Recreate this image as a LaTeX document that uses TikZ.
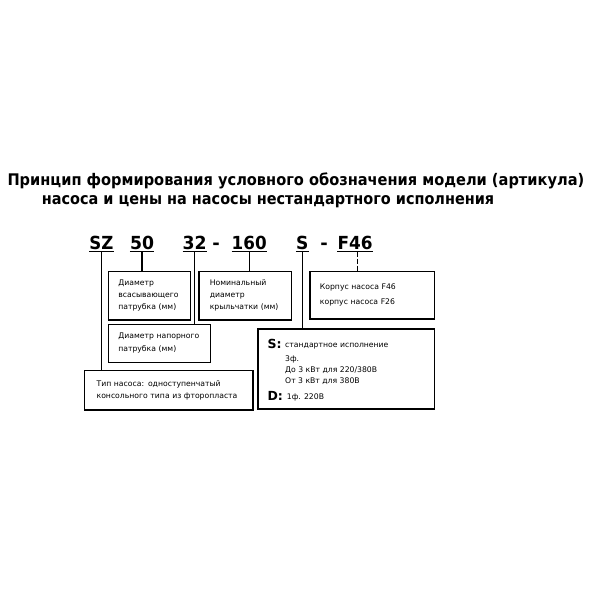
\documentclass[tikz,border=0pt]{standalone}
\usepackage{fontspec}
\setmainfont{DejaVu Sans}
\usepackage{graphicx}
\newcommand{\boxfnt}{\fontsize{7.7}{11.8}\selectfont}
\begin{document}
\begin{tikzpicture}[x=1pt,y=-1pt,
  titlestyle/.style={font=\fontsize{16}{16}\selectfont\bfseries, inner sep=0pt, anchor=base west},
  codestyle/.style={font=\fontsize{18}{18}\selectfont\bfseries, inner sep=0pt, anchor=base},
  uline/.style={line width=1.8pt, draw=black},
  conn/.style={line width=1.25pt, draw=black},
  infobox/.style={draw=black, line width=1.2pt, rectangle, anchor=north west,
    inner xsep=10pt, inner ysep=0pt, align=left, font=\boxfnt},
  boxtext/.style={font=\boxfnt, inner sep=0pt, anchor=base west},
  bigletter/.style={font=\fontsize{12.5}{12.5}\selectfont\bfseries, inner sep=0pt, anchor=base west}]
\useasboundingbox (0,0) rectangle (591,591);
\fill[white] (0,0) rectangle (591,591);

% title
\node[titlestyle] (t1) at (7.3,185) {\resizebox{576.7pt}{\height}{Принцип формирования условного обозначения модели (артикула)}};
\node[titlestyle] (t2) at (41.7,204.3) {\resizebox{452.3pt}{\height}{насоса и цены на насосы нестандартного исполнения}};

% code line
\node[codestyle] (sz) at (101.3,249) {\resizebox{24pt}{\height}{SZ}};
\node[codestyle] (c50) at (142,249) {\resizebox{24pt}{\height}{50}};
\node[codestyle] (c32) at (194.7,249) {\resizebox{24pt}{\height}{32}};
\node[codestyle] (d1) at (216,249) {-};
\node[codestyle] (c160) at (249.2,249) {\resizebox{35pt}{\height}{160}};
\node[codestyle] (cs) at (302.2,249) {\resizebox{12.3pt}{\height}{S}};
\node[codestyle] (d2) at (324.2,249) {-};
\node[codestyle] (cf) at (355,249) {\resizebox{35pt}{\height}{F46}};

\foreach \n in {sz,c50,c32,c160,cs,cf}{
  \draw[uline] ([yshift=-2.5pt]\n.base west) -- ([yshift=-2.5pt]\n.base east);
}

% boxes
\node[infobox, minimum width=82.3pt, minimum height=48.6pt, text width=62.3pt] (b1) at (107.7,270.7)
  {Диаметр\\всасывающего\\патрубка (мм)};
\node[infobox, minimum width=92.4pt, minimum height=48.6pt, text width=70.7pt, inner xsep=10.85pt] (b2) at (198.3,270.7)
  {Номинальный\\диаметр\\крыльчатки (мм)};
\node[infobox, minimum width=102.3pt, minimum height=37.7pt, text width=82.3pt, font=\fontsize{7.7}{13}\selectfont] (b3) at (107.7,324)
  {Диаметр напорного\\патрубка (мм)};
\node[infobox, minimum width=168.3pt, minimum height=39.3pt, text width=144.3pt, inner xsep=12pt] (b4) at (84,370)
  {Тип насоса: одноступенчатый\\консольного типа из фторопласта};
\node[infobox, minimum width=124.7pt, minimum height=47.6pt, text width=104.7pt, font=\fontsize{7.7}{15.6}\selectfont] (b5) at (309.3,270.7)
  {Корпус насоса F46\\корпус насоса F26};
\node[draw=black, line width=1.2pt, rectangle, anchor=north west, minimum width=176.7pt, minimum height=80pt, inner sep=0pt] (b6) at (257.3,328.3) {};

% S box contents
\node[bigletter] (sl) at (267.3,348.3) {S:};
\node[boxtext] (s1) at (285,347.5) {стандартное исполнение};
\node[boxtext] (s2) at (285,361.5) {3ф.};
\node[boxtext] (s3) at (285,372.5) {До 3 кВт для 220/380В};
\node[boxtext] (s4) at (285,383.5) {От 3 кВт для 380В};
\node[bigletter] (dl) at (267.3,400.7) {D:};
\node[boxtext] (s5) at (286.7,399.5) {1ф. 220В};

% connectors
\draw[conn] ([yshift=-2.5pt]sz.base) -- (sz.base |- b4.north);
\draw[conn] ([yshift=-2.5pt]c50.base) -- (c50.base |- b1.north);
\draw[conn] ([yshift=-2.5pt]c32.base) -- (c32.base |- b3.north);
\draw[conn] ([yshift=-2.5pt]c160.base) -- (c160.base |- b2.north);
\draw[conn] ([yshift=-2.5pt]cs.base) -- (cs.base |- b6.north);
\draw[conn, dash pattern=on 5pt off 2pt] ([xshift=2.7pt,yshift=-2.5pt]cf.base) -- ([xshift=2.7pt]cf.base |- b5.north);
\end{tikzpicture}
\end{document}
